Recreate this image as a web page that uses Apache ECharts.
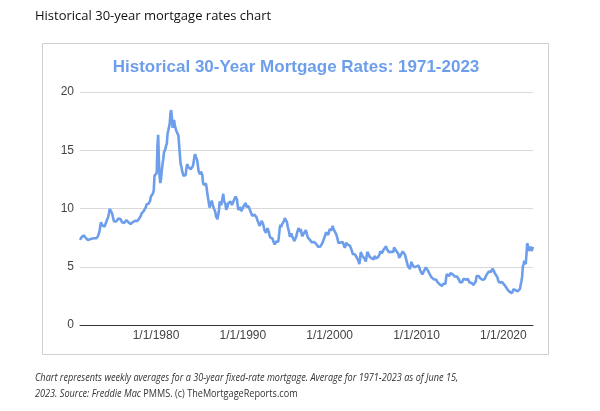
<!DOCTYPE html>
<html><head><meta charset="utf-8">
<script src="https://cdn.jsdelivr.net/npm/echarts@6/dist/echarts.min.js"></script>
<style>html,body{margin:0;padding:0;background:#fff}#c{width:600px;height:411px}</style>
</head><body><div id="c"></div>
<script>
// Monthly averages of the 30-year fixed rate (%), starting April 1971
const startYear = 1971, startMonth = 4;
const rates1970s = [
 7.31,7.43,7.53,7.60,7.70,7.69,7.63,7.55,7.48,
 7.44,7.32,7.29,7.31,7.37,7.37,7.40,7.40,7.42,7.43,7.44,7.44,
 7.44,7.44,7.46,7.54,7.65,7.73,8.05,8.50,8.82,8.65,8.54,8.54,
 8.54,8.46,8.41,8.58,8.97,9.09,9.28,9.59,9.96,9.98,9.79,9.62,
 9.43,9.10,8.89,8.82,8.91,8.89,8.89,8.94,9.13,9.22,9.15,9.10,
 9.02,8.82,8.76,8.73,8.76,8.85,8.93,9.00,8.98,8.92,8.81,8.79,
 8.72,8.67,8.69,8.75,8.83,8.86,8.94,8.94,8.90,8.92,8.92,8.96,
 9.01,9.15,9.20,9.36,9.57,9.71,9.74,9.78,9.76,9.86,10.11,10.35,
 10.39,10.41,10.43,10.50,10.69,11.04,11.09,11.09,11.30,11.64,12.83,12.90
];
const rates1980s = [
 12.88,13.04,15.28,16.32,14.26,12.71,12.19,12.56,13.20,13.79,14.21,14.79,
 14.90,15.13,15.40,15.58,16.40,16.70,16.83,17.29,18.16,18.45,17.83,16.92,
 17.40,17.60,17.16,16.89,16.68,16.70,16.82,16.27,15.43,14.61,13.83,13.62,
 13.25,13.04,12.80,12.78,12.63,12.87,13.42,13.81,13.73,13.54,13.44,13.42,
 13.37,13.23,13.39,13.65,13.94,14.42,14.67,14.47,14.35,14.13,13.64,13.18,
 13.08,12.92,13.17,13.20,12.91,12.22,12.03,12.19,12.19,12.14,11.78,11.26,
 10.88,10.71,10.08,9.94,10.14,10.68,10.51,10.20,10.01,9.98,9.70,9.32,
 9.20,9.08,9.04,9.83,10.60,10.54,10.28,10.33,10.89,11.26,10.65,10.64,
 10.38,9.89,9.93,10.20,10.46,10.46,10.43,10.60,10.48,10.30,10.27,10.61,
 10.73,10.65,11.03,11.05,10.77,10.20,9.88,9.99,10.13,9.95,9.77,9.74
];
const rates1990s = [
 9.90,10.20,10.27,10.37,10.48,10.16,10.04,10.10,10.18,10.18,10.01,9.67,
 9.64,9.37,9.50,9.49,9.47,9.62,9.58,9.24,9.01,8.86,8.71,8.50,
 8.43,8.76,8.94,8.85,8.67,8.51,8.13,7.98,7.92,8.09,8.31,8.22,
 7.99,7.68,7.50,7.47,7.47,7.42,7.21,7.11,6.92,6.83,7.16,7.17,
 7.06,7.15,7.68,8.32,8.60,8.40,8.61,8.51,8.64,8.93,9.17,9.20,
 9.15,8.83,8.46,8.32,7.96,7.57,7.61,7.86,7.64,7.48,7.38,7.20,
 7.03,7.08,7.62,7.93,8.07,8.32,8.25,8.00,8.23,7.92,7.62,7.60,
 7.82,7.65,7.90,8.14,7.94,7.69,7.50,7.48,7.43,7.29,7.21,7.10,
 6.99,7.04,7.13,7.14,7.14,7.00,6.95,6.92,6.72,6.71,6.87,6.72,
 6.79,6.81,7.04,6.92,7.15,7.55,7.63,7.94,7.82,7.85,7.74,7.91
];
const rates2000s = [
 8.21,8.33,8.24,8.15,8.52,8.29,8.15,8.03,7.91,7.80,7.75,7.38,
 7.03,7.05,6.95,7.08,7.15,7.16,7.13,6.95,6.82,6.62,6.66,7.07,
 7.00,6.89,7.01,6.99,6.81,6.65,6.49,6.29,6.09,6.11,6.07,6.05,
 5.92,5.84,5.75,5.81,5.48,5.23,5.63,6.26,6.15,5.95,5.93,5.88,
 5.71,5.64,5.45,5.83,6.27,6.29,6.06,5.87,5.75,5.72,5.73,5.75,
 5.71,5.63,5.93,5.86,5.72,5.58,5.70,5.82,5.77,6.07,6.33,6.27,
 6.15,6.25,6.32,6.51,6.60,6.68,6.76,6.52,6.40,6.36,6.24,6.14,
 6.22,6.29,6.16,6.18,6.26,6.66,6.70,6.57,6.38,6.38,6.21,6.10,
 5.76,5.92,5.97,5.92,6.04,6.32,6.43,6.48,6.04,6.20,6.09,5.33,
 5.06,5.13,5.00,4.81,4.86,5.42,5.22,5.19,5.06,4.95,4.88,4.93
];
const rates2010s = [
 5.03,4.99,4.97,5.10,4.89,4.74,4.56,4.43,4.35,4.23,4.30,4.71,
 4.76,4.95,4.84,4.84,4.64,4.51,4.55,4.27,4.11,4.07,3.99,3.96,
 3.92,3.89,3.95,3.91,3.80,3.68,3.55,3.60,3.50,3.38,3.35,3.35,
 3.41,3.53,3.57,3.45,3.54,4.07,4.37,4.46,4.49,4.19,4.26,4.46,
 4.43,4.30,4.34,4.34,4.19,4.16,4.13,4.12,4.16,4.04,4.00,3.86,
 3.67,3.71,3.77,3.67,3.84,3.98,4.05,3.91,3.89,3.80,3.94,3.96,
 3.87,3.66,3.69,3.61,3.60,3.57,3.44,3.44,3.46,3.47,3.77,4.20,
 4.15,4.17,4.20,4.05,4.01,3.90,3.97,3.88,3.81,3.90,3.92,3.95,
 4.03,4.33,4.44,4.47,4.59,4.57,4.53,4.55,4.63,4.83,4.87,4.64,
 4.46,4.37,4.27,4.14,4.07,3.80,3.77,3.62,3.61,3.69,3.70,3.72
];
const rates2020s = [
 3.62,3.47,3.45,3.31,3.23,3.16,3.02,2.94,2.89,2.83,2.77,2.68,
 2.74,2.81,3.08,3.06,2.96,2.98,2.87,2.84,2.90,3.07,3.07,3.10,
 3.45,3.76,4.17,4.98,5.23,5.52,5.41,5.22,6.11,7.02,6.81,6.36,
 6.27,6.26,6.73,6.34,6.43,6.71
];
const yTicks = [0, 5, 10, 15, 20];
const xLabelYears = [1980, 1990, 2000, 2010, 2020];

const allRates = [].concat(rates1970s, rates1980s, rates1990s, rates2000s, rates2010s, rates2020s);
const lineData = allRates.map((v, i) => [startYear + (startMonth - 1 + i) / 12, v]);
const xMin = startYear + (startMonth - 1) / 12;
const xMax = lineData[lineData.length - 1][0];

const chart = echarts.init(document.getElementById('c'), null, {renderer: 'canvas'});
const capScale = 0.83;
chart.setOption({
  backgroundColor: '#fff',
  animation: false,
  grid: {left: 80, right: 67, top: 92, bottom: 86},
  xAxis: {
    type: 'value', min: xMin, max: xMax,
    axisLine: {show: true, onZero: false, lineStyle: {color: '#333', width: 1}},
    axisTick: {show: false},
    splitLine: {show: false},
    axisLabel: {
      customValues: xLabelYears,
      formatter: v => '1/1/' + Math.round(v),
      color: '#444', fontSize: 12, fontFamily: 'Arial, Liberation Sans', margin: 5
    }
  },
  yAxis: {
    type: 'value', min: yTicks[0], max: yTicks[yTicks.length - 1], interval: 5,
    axisLine: {show: false}, axisTick: {show: false},
    splitLine: {lineStyle: {color: '#d9d9d9', width: 1}},
    axisLabel: {color: '#444', fontSize: 12, fontFamily: 'Arial, Liberation Sans', margin: 6}
  },
  series: [{
    type: 'line', data: lineData, showSymbol: false, symbol: 'none',
    lineStyle: {color: '#6d9eeb', width: 2.6}, z: 3
  }],
  graphic: [
    {type: 'text', x: 35, y: 16, style: {text: 'Historical 30-year mortgage rates chart',
      fontFamily: 'Open Sans', fontSize: 13, fontWeight: 500, fill: '#111', verticalAlign: 'middle'}},
    {type: 'rect', silent: true, z: -1, shape: {x: 42.5, y: 43.5, width: 506, height: 311},
      style: {fill: 'none', stroke: '#cfcfcf', lineWidth: 1}},
    {type: 'text', x: 296, y: 67, style: {text: 'Historical 30-Year Mortgage Rates: 1971-2023',
      fontFamily: 'Arial, Liberation Sans', fontWeight: 'bold', fontSize: 17, fill: '#6d9eeb',
      align: 'center', verticalAlign: 'middle'}},
    {type: 'text', x: 35, y: 378, scaleX: capScale, style: {
      text: 'Chart represents weekly averages for a 30-year fixed-rate mortgage. Average for 1971-2023 as of June 15,',
      fontFamily: 'Open Sans', fontSize: 11, fontStyle: 'italic', fill: '#333', verticalAlign: 'middle'}},
    {type: 'text', x: 35, y: 394, scaleX: capScale, style: {
      text: '{i|2023. Source: Freddie Mac }{n|PMMS. (c) TheMortgageReports.com}',
      verticalAlign: 'middle',
      rich: {
        i: {fontFamily: 'Open Sans', fontSize: 11, fontStyle: 'italic', fill: '#333', color: '#333'},
        n: {fontFamily: 'Open Sans', fontSize: 11, fill: '#333', color: '#333'}
      }}}
  ]
});
</script></body></html>
